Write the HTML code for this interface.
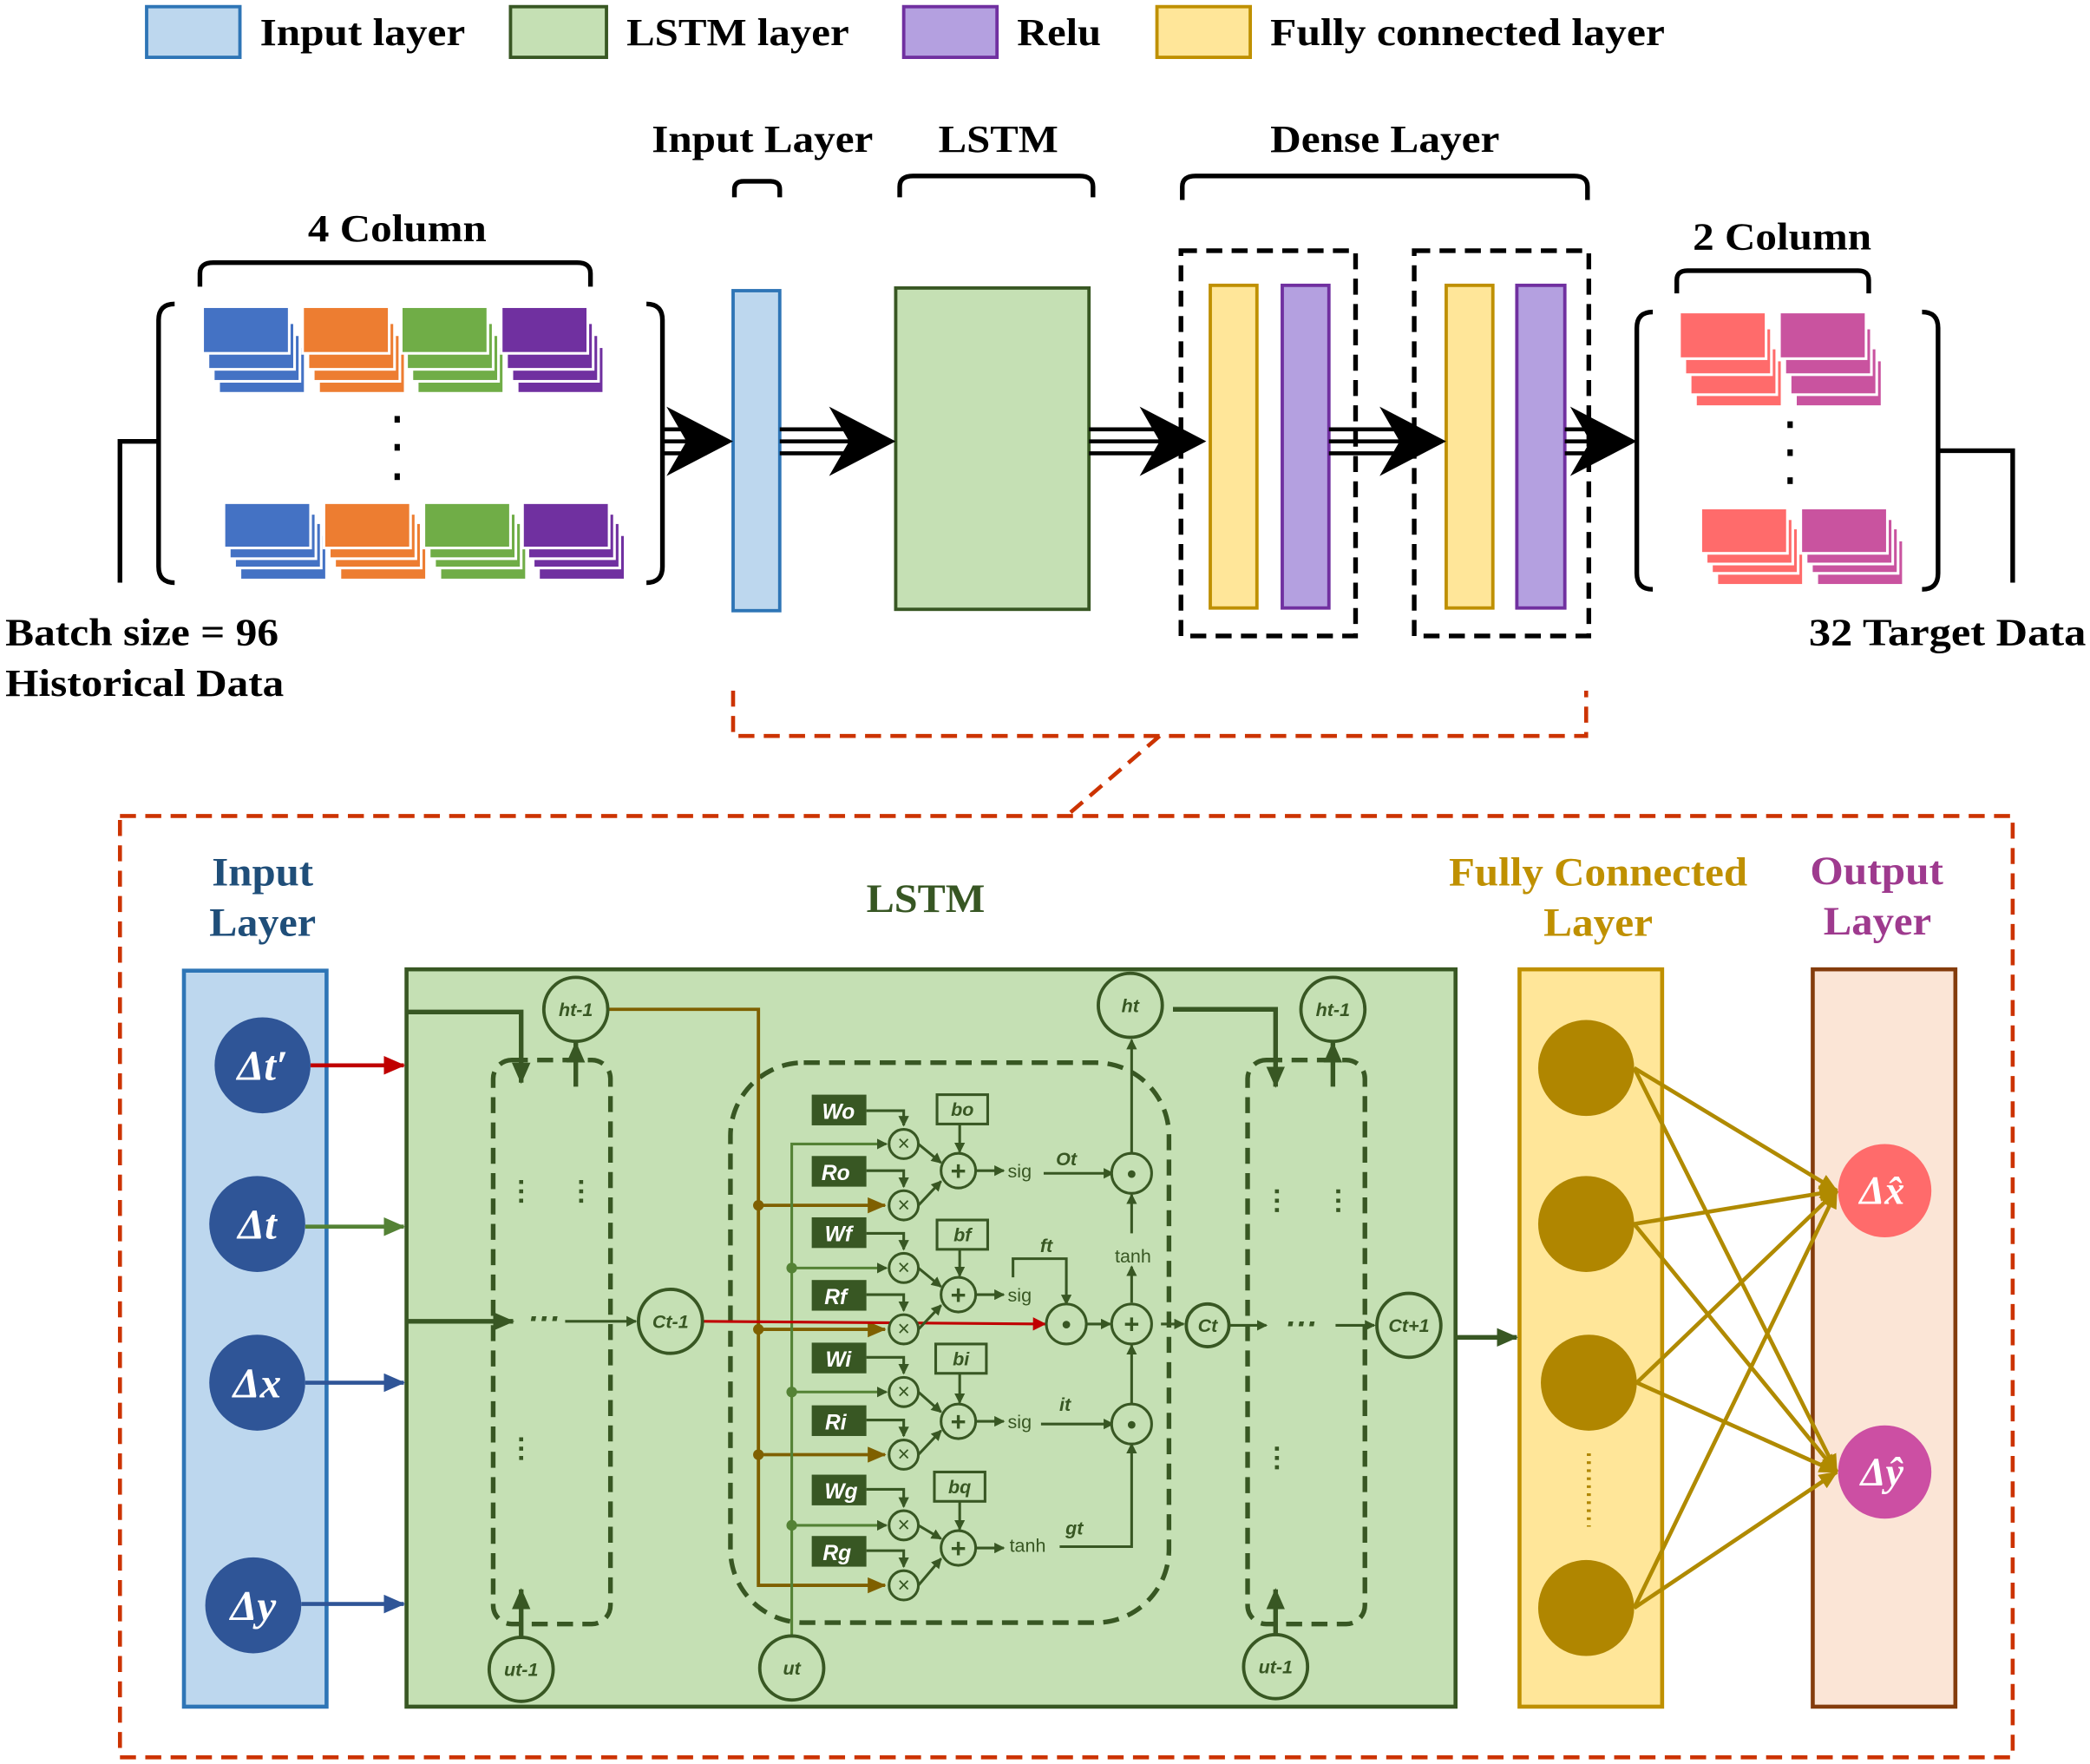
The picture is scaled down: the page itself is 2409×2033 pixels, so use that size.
<!DOCTYPE html>
<html><head><meta charset="utf-8"><style>
html,body{margin:0;padding:0;background:#fff;}
svg{display:block;}
.t{font-family:"Liberation Serif",serif;font-weight:bold;}
.s{font-family:"Liberation Sans",sans-serif;font-weight:bold;font-style:italic;}
</style></head><body>
<svg width="2409" height="2033" viewBox="0 0 1568 1323" preserveAspectRatio="none" xmlns="http://www.w3.org/2000/svg">
<defs>
<marker id="ag" markerWidth="8" markerHeight="8" refX="7" refY="4" orient="auto" markerUnits="userSpaceOnUse"><path d="M0,0L8,4L0,8z" fill="#385723"/></marker>
<marker id="agb" markerWidth="16" markerHeight="14" refX="15" refY="7" orient="auto" markerUnits="userSpaceOnUse"><path d="M0,0L16,7L0,14z" fill="#385723"/></marker>
<marker id="ar" markerWidth="16" markerHeight="14" refX="15" refY="7" orient="auto" markerUnits="userSpaceOnUse"><path d="M0,0L16,7L0,14z" fill="#c00000"/></marker>
<marker id="ar2" markerWidth="10" markerHeight="10" refX="9" refY="5" orient="auto" markerUnits="userSpaceOnUse"><path d="M0,0L10,5L0,10z" fill="#c00000"/></marker>
<marker id="agr" markerWidth="16" markerHeight="14" refX="15" refY="7" orient="auto" markerUnits="userSpaceOnUse"><path d="M0,0L16,7L0,14z" fill="#548235"/></marker>
<marker id="abl" markerWidth="16" markerHeight="14" refX="15" refY="7" orient="auto" markerUnits="userSpaceOnUse"><path d="M0,0L16,7L0,14z" fill="#2f5597"/></marker>
<marker id="ao" markerWidth="14" markerHeight="12" refX="13" refY="6" orient="auto" markerUnits="userSpaceOnUse"><path d="M0,0L14,6L0,12z" fill="#b08a00"/></marker>
<marker id="abr" markerWidth="14" markerHeight="12" refX="13" refY="6" orient="auto" markerUnits="userSpaceOnUse"><path d="M0,0L14,6L0,12z" fill="#7f6000"/></marker>
</defs>

<!-- Legend -->
<g stroke-width="2.5">
<rect x="110" y="5" width="70" height="38" fill="#bdd7ee" stroke="#2e75b6"/>
<rect x="383" y="5" width="72" height="38" fill="#c5e0b4" stroke="#385723"/>
<rect x="678" y="5" width="70" height="38" fill="#b4a0e0" stroke="#7030a0"/>
<rect x="868" y="5" width="70" height="38" fill="#ffe699" stroke="#bf9000"/>
</g>
<g class="t" font-size="29" fill="#000">
<text x="195" y="34" textLength="154" lengthAdjust="spacingAndGlyphs">Input layer</text>
<text x="470" y="34" textLength="167" lengthAdjust="spacingAndGlyphs">LSTM layer</text>
<text x="763" y="34" textLength="63" lengthAdjust="spacingAndGlyphs">Relu</text>
<text x="953" y="34" textLength="296" lengthAdjust="spacingAndGlyphs">Fully connected layer</text>
<text x="231" y="181" textLength="134" lengthAdjust="spacingAndGlyphs">4 Column</text>
<text x="489" y="114" textLength="166" lengthAdjust="spacingAndGlyphs">Input Layer</text>
<text x="704" y="114" textLength="90" lengthAdjust="spacingAndGlyphs">LSTM</text>
<text x="953" y="114" textLength="172" lengthAdjust="spacingAndGlyphs">Dense Layer</text>
<text x="1270" y="187" textLength="134" lengthAdjust="spacingAndGlyphs">2 Column</text>
<text x="4" y="484" textLength="205" lengthAdjust="spacingAndGlyphs">Batch size = 96</text>
<text x="4" y="522" textLength="209" lengthAdjust="spacingAndGlyphs">Historical Data</text>
<text x="1357" y="484" textLength="208" lengthAdjust="spacingAndGlyphs">32 Target Data</text>
</g>

<!-- braces -->
<g fill="none" stroke="#000" stroke-width="3.5">
<path d="M150,215 V205 Q150,197 160,197 H433 Q443,197 443,205 V215"/>
<path d="M551,148 V142 Q551,136 558,136 H578 Q585,136 585,142 V148"/>
<path d="M675,148 V140 Q675,132 685,132 H810 Q820,132 820,140 V148"/>
<path d="M887,150 V140 Q887,132 897,132 H1181 Q1191,132 1191,140 V150"/>
<path d="M1258,220 V210 Q1258,203 1266,203 H1394 Q1402,203 1402,210 V220"/>
<path d="M131,228 Q119,228 119,240 V425 Q119,437 131,437"/>
<path d="M485,228 Q497,228 497,240 V425 Q497,437 485,437"/>
<path d="M1240,234 Q1228,234 1228,246 V430 Q1228,442 1240,442"/>
<path d="M1442,234 Q1454,234 1454,246 V430 Q1454,442 1442,442"/>
<path d="M90,437 V331 H119"/>
<path d="M1454,338 H1510 V437"/>
</g>

<!-- stacks -->
<g stroke="#fff" stroke-width="2">
<g fill="#4472c4"><rect x="164" y="260" width="65" height="35"/><rect x="160" y="251" width="65" height="35"/><rect x="156" y="242" width="65" height="35"/><rect x="152" y="230" width="65" height="35"/></g>
<g fill="#ed7d31"><rect x="239" y="260" width="65" height="35"/><rect x="235" y="251" width="65" height="35"/><rect x="231" y="242" width="65" height="35"/><rect x="227" y="230" width="65" height="35"/></g>
<g fill="#70ad47"><rect x="313" y="260" width="65" height="35"/><rect x="309" y="251" width="65" height="35"/><rect x="305" y="242" width="65" height="35"/><rect x="301" y="230" width="65" height="35"/></g>
<g fill="#7030a0"><rect x="388" y="260" width="65" height="35"/><rect x="384" y="251" width="65" height="35"/><rect x="380" y="242" width="65" height="35"/><rect x="376" y="230" width="65" height="35"/></g>
<g fill="#4472c4"><rect x="180" y="401" width="65" height="34"/><rect x="176" y="392" width="65" height="34"/><rect x="172" y="385" width="65" height="34"/><rect x="168" y="377" width="65" height="34"/></g>
<g fill="#ed7d31"><rect x="255" y="401" width="65" height="34"/><rect x="251" y="392" width="65" height="34"/><rect x="247" y="385" width="65" height="34"/><rect x="243" y="377" width="65" height="34"/></g>
<g fill="#70ad47"><rect x="330" y="401" width="65" height="34"/><rect x="326" y="392" width="65" height="34"/><rect x="322" y="385" width="65" height="34"/><rect x="318" y="377" width="65" height="34"/></g>
<g fill="#7030a0"><rect x="404" y="401" width="65" height="34"/><rect x="400" y="392" width="65" height="34"/><rect x="396" y="385" width="65" height="34"/><rect x="392" y="377" width="65" height="34"/></g>
<g fill="#ff6b6b"><rect x="1272" y="270" width="65" height="35"/><rect x="1268" y="261" width="65" height="35"/><rect x="1264" y="246" width="65" height="35"/><rect x="1260" y="234" width="65" height="35"/>
<rect x="1288" y="405" width="65" height="34"/><rect x="1284" y="396" width="65" height="34"/><rect x="1280" y="389" width="65" height="34"/><rect x="1276" y="381" width="65" height="34"/></g>
<g fill="#c9539f"><rect x="1347" y="270" width="65" height="35"/><rect x="1343" y="261" width="65" height="35"/><rect x="1339" y="246" width="65" height="35"/><rect x="1335" y="234" width="65" height="35"/>
<rect x="1363" y="405" width="65" height="34"/><rect x="1359" y="396" width="65" height="34"/><rect x="1355" y="389" width="65" height="34"/><rect x="1351" y="381" width="65" height="34"/></g>
</g>
<g fill="#000"><rect x="296" y="312" width="4" height="5"/><rect x="296" y="333" width="4" height="5"/><rect x="296" y="355" width="4" height="5"/>
<rect x="1341" y="316" width="4" height="5"/><rect x="1341" y="337" width="4" height="5"/><rect x="1341" y="358" width="4" height="5"/></g>

<!-- top blocks -->
<rect x="550" y="218" width="35" height="240" fill="#bdd7ee" stroke="#2e75b6" stroke-width="2.5"/>
<rect x="672" y="216" width="145" height="241" fill="#c5e0b4" stroke="#385723" stroke-width="2.5"/>
<rect x="886" y="188" width="131" height="289" fill="none" stroke="#000" stroke-width="3.5" stroke-dasharray="12,7"/>
<rect x="1061" y="188" width="131" height="289" fill="none" stroke="#000" stroke-width="3.5" stroke-dasharray="12,7"/>
<rect x="908" y="214" width="35" height="242" fill="#ffe699" stroke="#bf9000" stroke-width="2.5"/>
<rect x="962" y="214" width="35" height="242" fill="#b4a0e0" stroke="#7030a0" stroke-width="2.5"/>
<rect x="1085" y="214" width="35" height="242" fill="#ffe699" stroke="#bf9000" stroke-width="2.5"/>
<rect x="1138" y="214" width="36" height="242" fill="#b4a0e0" stroke="#7030a0" stroke-width="2.5"/>

<!-- big arrows -->
<g fill="#000" stroke="#000">
<g stroke-width="3"><line x1="497" y1="322" x2="530" y2="322"/><line x1="497" y1="331" x2="530" y2="331"/><line x1="497" y1="340" x2="530" y2="340"/></g>
<path d="M500,305 L550,331 L500,357 L515,331z" stroke="none"/>
<g stroke-width="3"><line x1="585" y1="322" x2="650" y2="322"/><line x1="585" y1="331" x2="650" y2="331"/><line x1="585" y1="340" x2="650" y2="340"/></g>
<path d="M622,305 L672,331 L622,357 L637,331z" stroke="none"/>
<g stroke-width="3"><line x1="817" y1="322" x2="885" y2="322"/><line x1="817" y1="331" x2="885" y2="331"/><line x1="817" y1="340" x2="885" y2="340"/></g>
<path d="M855,305 L905,331 L855,357 L870,331z" stroke="none"/>
<g stroke-width="3"><line x1="997" y1="322" x2="1065" y2="322"/><line x1="997" y1="331" x2="1065" y2="331"/><line x1="997" y1="340" x2="1065" y2="340"/></g>
<path d="M1035,305 L1085,331 L1035,357 L1050,331z" stroke="none"/>
<g stroke-width="3"><line x1="1174" y1="322" x2="1208" y2="322"/><line x1="1174" y1="331" x2="1208" y2="331"/><line x1="1174" y1="340" x2="1208" y2="340"/></g>
<path d="M1178,305 L1228,331 L1178,357 L1193,331z" stroke="none"/>
</g>

<!-- red dashed -->
<g fill="none" stroke="#cc3300" stroke-width="3" stroke-dasharray="12,7">
<path d="M550,518 V552 H1190 V518"/>
<path d="M870,552 L800,612"/>
<rect x="90" y="612" width="1420" height="706"/>
</g>

<!-- bottom titles -->
<g class="t" font-size="30">
<text x="159" y="664" fill="#1f4e79" textLength="76" lengthAdjust="spacingAndGlyphs">Input</text><text x="157" y="702" fill="#1f4e79" textLength="80" lengthAdjust="spacingAndGlyphs">Layer</text>
<text x="650" y="684" fill="#375623" textLength="89" lengthAdjust="spacingAndGlyphs">LSTM</text>
<text x="1087" y="664" fill="#bf9000" textLength="224" lengthAdjust="spacingAndGlyphs">Fully Connected</text><text x="1158" y="702" fill="#bf9000" textLength="82" lengthAdjust="spacingAndGlyphs">Layer</text>
<text x="1358" y="663" fill="#9e3a8e" textLength="100" lengthAdjust="spacingAndGlyphs">Output</text><text x="1368" y="701" fill="#9e3a8e" textLength="81" lengthAdjust="spacingAndGlyphs">Layer</text>
</g>

<rect x="138" y="728" width="107" height="552" fill="#bdd7ee" stroke="#2e75b6" stroke-width="3"/>
<rect x="305" y="727" width="787" height="553" fill="#c5e0b4" stroke="#385723" stroke-width="3"/>
<rect x="1140" y="727" width="107" height="553" fill="#ffe699" stroke="#bf9000" stroke-width="3"/>
<rect x="1360" y="727" width="107" height="553" fill="#fbe5d6" stroke="#843c0c" stroke-width="3"/>

<!-- input circles -->
<g fill="#2f5597"><circle cx="197" cy="799" r="36"/><circle cx="193" cy="918" r="36"/><circle cx="193" cy="1037" r="36"/><circle cx="190" cy="1204" r="36"/></g>
<g class="t" font-style="italic" font-size="32" fill="#fff" text-anchor="middle">
<text x="197" y="810">Δt′</text><text x="193" y="929">Δt</text><text x="193" y="1048">Δx</text><text x="190" y="1215">Δy</text>
</g>
<g stroke-width="3">
<line x1="233" y1="799" x2="303" y2="799" stroke="#c00000" marker-end="url(#ar)"/>
<line x1="229" y1="920" x2="303" y2="920" stroke="#548235" marker-end="url(#agr)"/>
<line x1="229" y1="1037" x2="303" y2="1037" stroke="#2f5597" marker-end="url(#abl)"/>
<line x1="226" y1="1203" x2="303" y2="1203" stroke="#2f5597" marker-end="url(#abl)"/>
</g>

<!-- LSTM internals -->
<g fill="none" stroke="#385723" stroke-width="3.5" stroke-dasharray="12,7">
<rect x="370" y="795" width="88" height="423" rx="14"/>
<rect x="548" y="797" width="329" height="420" rx="55"/>
<rect x="936" y="795" width="88" height="423" rx="14"/>
</g>
<g fill="none" stroke="#385723" stroke-width="3.5">
<path d="M305,759 H391 V812" marker-end="url(#agb)"/>
<path d="M305,991 H385" marker-end="url(#agb)"/>
<path d="M432,815 V782" marker-end="url(#agb)"/>
<path d="M391,1228 V1192" marker-end="url(#agb)"/>
<path d="M880,757 H957 V815" marker-end="url(#agb)"/>
<path d="M1000,815 V782" marker-end="url(#agb)"/>
<path d="M957,1226 V1192" marker-end="url(#agb)"/>
<path d="M1092,1003 H1138" marker-end="url(#agb)"/>
</g>
<g fill="#385723" class="s" font-size="24"><text x="396" y="997">···</text><text x="964" y="1001">···</text></g>
<g stroke="#385723" stroke-width="2" fill="none">
<line x1="424" y1="991" x2="477" y2="991" marker-end="url(#ag)"/>
<line x1="1002" y1="994" x2="1031" y2="994" marker-end="url(#ag)"/>
<line x1="922" y1="994" x2="950" y2="994" marker-end="url(#ag)"/>
<line x1="871" y1="993" x2="888" y2="993" marker-end="url(#ag)"/>
</g>
<g stroke="#385723" stroke-width="3" stroke-dasharray="3,4"><line x1="391" y1="885" x2="391" y2="906"/><line x1="436" y1="885" x2="436" y2="906"/><line x1="391" y1="1078" x2="391" y2="1099"/><line x1="958" y1="892" x2="958" y2="913"/><line x1="1004" y1="892" x2="1004" y2="913"/><line x1="958" y1="1085" x2="958" y2="1106"/></g>

<!-- brown line from ht-1 -->
<g stroke="#7f6000" stroke-width="2.5" fill="none">
<path d="M456,757 H569 V1189 H664" marker-end="url(#abr)"/>
<line x1="569" y1="904" x2="664" y2="904" marker-end="url(#abr)"/>
<line x1="569" y1="997" x2="664" y2="997" marker-end="url(#abr)"/>
<line x1="569" y1="1091" x2="664" y2="1091" marker-end="url(#abr)"/>
</g>
<g fill="#7f6000"><circle cx="569" cy="904" r="4"/><circle cx="569" cy="997" r="4"/><circle cx="569" cy="1091" r="4"/></g>
<g stroke="#548235" stroke-width="2" fill="none">
<path d="M594,1227 V858 H665" marker-end="url(#ag)"/>
<line x1="594" y1="951" x2="665" y2="951" marker-end="url(#ag)"/>
<line x1="594" y1="1044" x2="665" y2="1044" marker-end="url(#ag)"/>
<line x1="594" y1="1144" x2="665" y2="1144" marker-end="url(#ag)"/>
</g>
<g fill="#548235"><circle cx="594" cy="951" r="4"/><circle cx="594" cy="1044" r="4"/><circle cx="594" cy="1144" r="4"/></g>
<line x1="527" y1="991" x2="784" y2="993" stroke="#c00000" stroke-width="2" marker-end="url(#ar2)"/>

<!-- gates -->
<g stroke="#385723" stroke-width="2" fill="none">
<path d="M650,833 H678 V844" marker-end="url(#ag)"/>
<path d="M650,878 H678 V890" marker-end="url(#ag)"/>
<path d="M650,925 H678 V937" marker-end="url(#ag)"/>
<path d="M650,971 H678 V983" marker-end="url(#ag)"/>
<path d="M650,1018 H678 V1030" marker-end="url(#ag)"/>
<path d="M650,1065 H678 V1077" marker-end="url(#ag)"/>
<path d="M650,1117 H678 V1130" marker-end="url(#ag)"/>
<path d="M650,1163 H678 V1175" marker-end="url(#ag)"/>
<line x1="689" y1="858" x2="706" y2="872" marker-end="url(#ag)"/>
<line x1="689" y1="904" x2="706" y2="886" marker-end="url(#ag)"/>
<line x1="689" y1="951" x2="706" y2="965" marker-end="url(#ag)"/>
<line x1="689" y1="997" x2="706" y2="979" marker-end="url(#ag)"/>
<line x1="689" y1="1044" x2="706" y2="1059" marker-end="url(#ag)"/>
<line x1="689" y1="1091" x2="706" y2="1073" marker-end="url(#ag)"/>
<line x1="689" y1="1144" x2="706" y2="1154" marker-end="url(#ag)"/>
<line x1="689" y1="1189" x2="706" y2="1169" marker-end="url(#ag)"/>
<line x1="720" y1="843" x2="720" y2="864" marker-end="url(#ag)"/>
<line x1="720" y1="937" x2="720" y2="957" marker-end="url(#ag)"/>
<line x1="720" y1="1030" x2="720" y2="1052" marker-end="url(#ag)"/>
<line x1="720" y1="1126" x2="720" y2="1147" marker-end="url(#ag)"/>
<line x1="732" y1="878" x2="753" y2="878" marker-end="url(#ag)"/>
<line x1="732" y1="971" x2="753" y2="971" marker-end="url(#ag)"/>
<line x1="732" y1="1066" x2="753" y2="1066" marker-end="url(#ag)"/>
<line x1="732" y1="1161" x2="753" y2="1161" marker-end="url(#ag)"/>
<line x1="783" y1="880" x2="835" y2="880" marker-end="url(#ag)"/>
<path d="M760,958 V944 H800 V978" marker-end="url(#ag)"/>
<line x1="781" y1="1068" x2="835" y2="1068" marker-end="url(#ag)"/>
<path d="M795,1160 H849 V1083" marker-end="url(#ag)"/>
<line x1="849" y1="1054" x2="849" y2="1009" marker-end="url(#ag)"/>
<line x1="815" y1="993" x2="833" y2="993" marker-end="url(#ag)"/>
<line x1="849" y1="951" x2="849" y2="978" marker-end="url(#ag)" transform="rotate(180 849 964)"/>
<line x1="849" y1="925" x2="849" y2="896" marker-end="url(#ag)"/>
<line x1="849" y1="866" x2="849" y2="780" marker-end="url(#ag)"/>
</g>
<g fill="#385723">
<rect x="609" y="821" width="41" height="23"/><rect x="609" y="867" width="41" height="23"/>
<rect x="609" y="913" width="41" height="23"/><rect x="609" y="960" width="41" height="23"/>
<rect x="609" y="1007" width="41" height="23"/><rect x="609" y="1054" width="41" height="23"/>
<rect x="609" y="1106" width="41" height="23"/><rect x="609" y="1152" width="41" height="23"/>
</g>
<g class="s" font-size="16" fill="#fff" font-style="italic" font-weight="normal" text-anchor="middle">
<text x="629" y="839">Wo</text><text x="627" y="885">Ro</text><text x="629" y="931">Wf</text><text x="627" y="978">Rf</text>
<text x="629" y="1025">Wi</text><text x="627" y="1072">Ri</text><text x="631" y="1124">Wg</text><text x="628" y="1170">Rg</text>
</g>
<g fill="#c5e0b4" stroke="#385723" stroke-width="2">
<rect x="703" y="821" width="38" height="22"/><rect x="703" y="915" width="38" height="22"/>
<rect x="702" y="1008" width="38" height="22"/><rect x="701" y="1104" width="38" height="22"/>
<circle cx="678" cy="858" r="11"/><circle cx="678" cy="904" r="11"/><circle cx="678" cy="951" r="11"/><circle cx="678" cy="997" r="11"/>
<circle cx="678" cy="1044" r="11"/><circle cx="678" cy="1091" r="11"/><circle cx="678" cy="1144" r="11"/><circle cx="678" cy="1189" r="11"/>
<circle cx="719" cy="878" r="13"/><circle cx="719" cy="971" r="13"/><circle cx="719" cy="1066" r="13"/><circle cx="719" cy="1161" r="13"/>
<circle cx="849" cy="880" r="15"/><circle cx="800" cy="993" r="15"/><circle cx="849" cy="1068" r="15"/><circle cx="849" cy="993" r="15"/>
<g stroke-width="2.5"><circle cx="432" cy="757" r="24"/><circle cx="503" cy="991" r="24"/><circle cx="391" cy="1252" r="24"/><circle cx="594" cy="1251" r="24"/>
<circle cx="848" cy="754" r="24"/><circle cx="906" cy="994" r="16"/><circle cx="1057" cy="994" r="24"/><circle cx="1000" cy="757" r="24"/><circle cx="957" cy="1250" r="24"/></g>
</g>
<g font-family="'Liberation Sans',sans-serif" fill="#385723" text-anchor="middle">
<g font-size="16"><text x="678" y="863">×</text><text x="678" y="909">×</text><text x="678" y="956">×</text><text x="678" y="1002">×</text><text x="678" y="1049">×</text><text x="678" y="1096">×</text><text x="678" y="1149">×</text><text x="678" y="1194">×</text></g>
<g font-size="20" font-weight="bold"><text x="719" y="885">+</text><text x="719" y="978">+</text><text x="719" y="1073">+</text><text x="719" y="1168">+</text><text x="849" y="1000">+</text>
<text x="849" y="887">•</text><text x="800" y="1000">•</text><text x="849" y="1075">•</text></g>
<g font-size="14"><text x="765" y="883">sig</text><text x="765" y="976">sig</text><text x="765" y="1071">sig</text><text x="771" y="1164">tanh</text><text x="850" y="947">tanh</text></g>
</g>
<g class="s" font-size="14" fill="#385723" text-anchor="middle">
<text x="722" y="837">bo</text><text x="722" y="931">bf</text><text x="721" y="1024">bi</text><text x="720" y="1120">bq</text>
<text x="800" y="874">Ot</text><text x="785" y="939">ft</text><text x="799" y="1058">it</text><text x="806" y="1151">gt</text>
<text x="432" y="762">ht-1</text><text x="503" y="996">Ct-1</text><text x="391" y="1257">ut-1</text><text x="594" y="1256">ut</text>
<text x="848" y="759">ht</text><text x="906" y="999">Ct</text><text x="1057" y="999">Ct+1</text><text x="1000" y="762">ht-1</text><text x="957" y="1255">ut-1</text>
</g>

<!-- FC -> output -->
<g stroke="#b08a00" stroke-width="3">
<line x1="1226" y1="801" x2="1378" y2="893" marker-end="url(#ao)"/>
<line x1="1226" y1="801" x2="1378" y2="1104" marker-end="url(#ao)"/>
<line x1="1226" y1="918" x2="1378" y2="893" marker-end="url(#ao)"/>
<line x1="1226" y1="918" x2="1378" y2="1104" marker-end="url(#ao)"/>
<line x1="1228" y1="1037" x2="1378" y2="893" marker-end="url(#ao)"/>
<line x1="1228" y1="1037" x2="1378" y2="1104" marker-end="url(#ao)"/>
<line x1="1226" y1="1206" x2="1378" y2="893" marker-end="url(#ao)"/>
<line x1="1226" y1="1206" x2="1378" y2="1104" marker-end="url(#ao)"/>
</g>
<g fill="#b08600"><circle cx="1190" cy="801" r="36"/><circle cx="1190" cy="918" r="36"/><circle cx="1192" cy="1037" r="36"/><circle cx="1190" cy="1206" r="36"/></g>
<line x1="1192" y1="1090" x2="1192" y2="1145" stroke="#b08600" stroke-width="3" stroke-dasharray="2,4"/>
<circle cx="1414" cy="893" r="35" fill="#ff6b6b"/>
<circle cx="1414" cy="1104" r="35" fill="#cc4fa3"/>
<g class="t" font-style="italic" font-size="30" fill="#fff" text-anchor="middle">
<text x="1412" y="903">Δx̂</text><text x="1412" y="1114">Δŷ</text>
</g>
</svg>
</body></html>
